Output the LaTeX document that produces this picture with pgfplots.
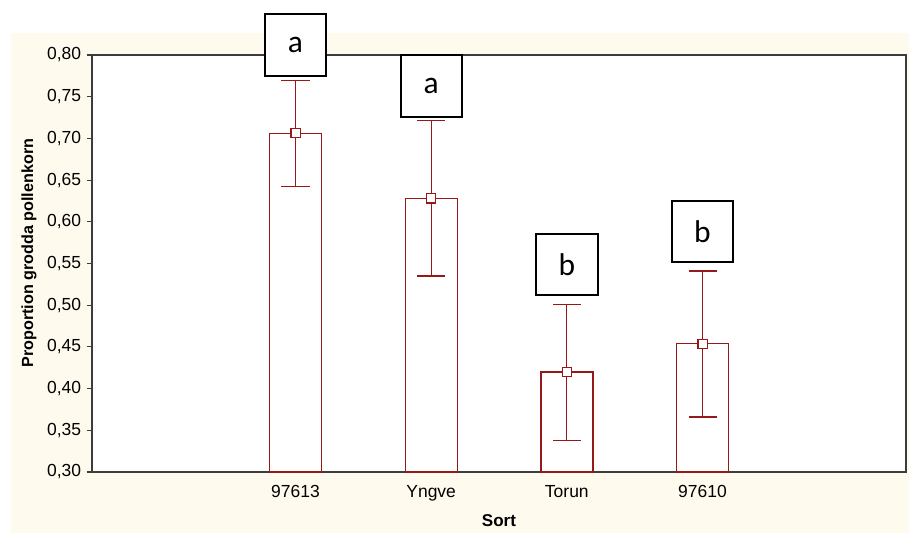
\documentclass[border=0pt]{standalone}
\usepackage{pgfplots}
\pgfplotsset{compat=1.18}
\usepackage{fontspec}
\setmainfont{Liberation Sans}
\newfontfamily\carlito{Carlito}
\definecolor{cream}{RGB}{255,250,238}
\definecolor{barred}{RGB}{150,25,25}
\definecolor{framec}{RGB}{60,60,60}
\begin{document}
\begin{tikzpicture}[x=0.75pt,y=0.75pt]
\fill[white] (-92,-61) rectangle (817,472);
\fill[cream] (-81,-61) rectangle (817,439);
\begin{axis}[
  at={(0,0)}, anchor=south west,
  scale only axis, width=610.5pt, height=312.75pt,
  xmin=-0.5, xmax=5.5, ymin=0.3, ymax=0.8,
  axis background/.style={fill=white},
  axis line style={framec, line width=1.3pt},
  xtick={1,2,3,4}, xticklabels={97613,Yngve,Torun,97610},
  ytick={0.30,0.35,0.40,0.45,0.50,0.55,0.60,0.65,0.70,0.75,0.80},
  tick pos=left, tick align=inside, major tick length=3.75pt,
  tick style={framec, line width=0.8pt},
  y tick style={xshift=-3.75pt},
  tick label style={font=\fontsize{13.1}{15}\selectfont},
  yticklabel style={inner sep=0pt, xshift=-8pt,
    /pgf/number format/use comma, /pgf/number format/fixed,
    /pgf/number format/fixed zerofill, /pgf/number format/precision=2},
  /pgf/number format/assume math mode=true,
  xticklabel style={inner sep=0pt, yshift=-9.75pt},
  ylabel={Proportion grodda pollenkorn},
  ylabel style={at={(axis description cs:-0.0774,0.525)}, anchor=center,
    font=\bfseries\fontsize{12.1}{14}\selectfont},
  xlabel={Sort},
  xlabel style={at={(axis description cs:0.5,-0.117)}, anchor=center,
    font=\bfseries\fontsize{12.8}{15}\selectfont},
]
\addplot[ybar, bar width=39pt, bar shift=0pt, draw=barred, fill=white, line width=1pt]
  coordinates {(1,0.706) (2,0.628) (3,0.420) (4,0.454)};
\addplot[only marks, mark=square*, mark size=3.4pt,
  mark options={fill=white, draw=barred, line width=0.8pt},
  error bars/.cd, y dir=both, y explicit,
  error bar style={barred, line width=0.9pt},
  error mark options={rotate=90, mark size=10.5pt, barred, line width=0.9pt}]
  coordinates {
    (1,0.706) += (0,0.063) -= (0,0.064)
    (2,0.628) += (0,0.093) -= (0,0.093)
    (3,0.420) += (0,0.081) -= (0,0.082)
    (4,0.454) += (0,0.087) -= (0,0.088)
  };
\coordinate (A1) at (axis cs:1,0.812);
\coordinate (A2) at (axis cs:2,0.763);
\coordinate (B1) at (axis cs:3,0.549);
\coordinate (B2) at (axis cs:4,0.588);
\end{axis}
\tikzset{lbox/.style={draw=black, line width=1.5pt, fill=white, minimum size=46pt,
  inner sep=0pt, font=\carlito\fontsize{23.6}{28}\selectfont}}
\node[lbox] at (A1) {a};
\node[lbox] at (A2) {a};
\node[lbox] at (B1) {b};
\node[lbox] at (B2) {b};
\end{tikzpicture}
\end{document}
